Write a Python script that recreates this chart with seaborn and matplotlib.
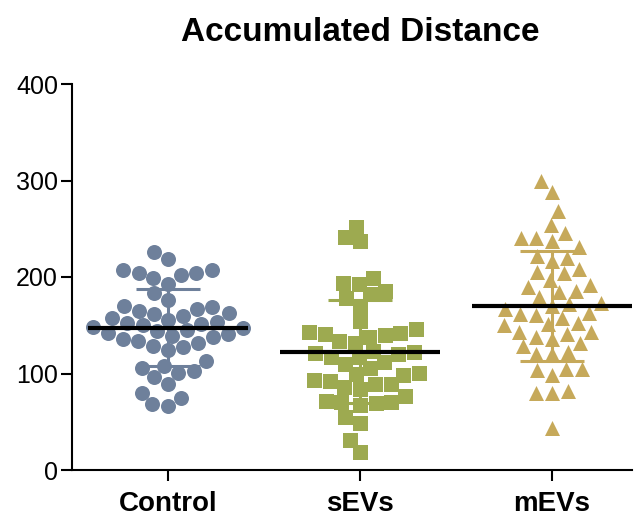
import numpy as np
import pandas as pd
import matplotlib
matplotlib.use("Agg")
import matplotlib.pyplot as plt
import seaborn as sns

groups = ["Control", "sEVs", "mEVs"]
markers = ["o", "s", "^"]
colors = ["#6E809B", "#9DAA50", "#C6A95A"]

control = [226, 219, 207, 207, 204, 204, 202, 199, 193, 183, 176, 170, 169, 167,
           165, 163, 162, 160, 157, 155, 153, 152, 151, 150, 148, 147, 145, 144,
           142, 141, 139, 138, 136, 134, 132, 129, 127, 124, 113, 108, 106, 103,
           101, 96, 89, 80, 75, 68, 66]
sevs = [252, 241, 237, 199, 194, 193, 185, 182, 178, 170, 154, 146, 143, 142,
        141, 140, 138, 134, 132, 123, 122, 121, 120, 117, 117, 112, 110, 106,
        101, 99, 98, 93, 92, 89, 89, 86, 84, 77, 72, 70, 70, 69, 67, 55, 49, 31, 19]
mevs = [299, 288, 268, 254, 246, 240, 237, 240, 231, 222, 217, 220, 208, 204,
        205, 197, 192, 186, 184, 190, 179, 172, 167, 162, 158, 161, 163, 170,
        173, 151, 143, 141, 136, 132, 138, 143, 150, 152, 128, 120, 120, 122,
        105, 104, 105, 98, 80, 80, 82, 44]

df = pd.DataFrame({
    "group": ["Control"] * len(control) + ["sEVs"] * len(sevs) + ["mEVs"] * len(mevs),
    "value": control + sevs + mevs,
})

sns.set_style("ticks", {"axes.edgecolor": "black", "xtick.color": "black",
                        "ytick.color": "black", "text.color": "black"})
plt.rcParams["font.family"] = ["Liberation Sans", "DejaVu Sans"]

fig = plt.figure(figsize=(6.39, 5.22), dpi=100)
ax = fig.add_axes([72 / 639, 1 - 470 / 522, 560 / 639, 386 / 522])

for i, g in enumerate(groups):
    sub = df[df["group"] == g]
    sns.swarmplot(data=sub, x="group", y="value", order=groups, marker=markers[i],
                  color=colors[i], size=10.8, linewidth=0, warn_thresh=1,
                  ax=ax, zorder=3)
    m = sub["value"].mean()
    sd = sub["value"].std()
    ax.errorbar(i, m, yerr=sd, color=colors[i], elinewidth=2.2, capsize=23,
                capthick=2.2, zorder=4)
    ax.hlines(m, i - 0.417, i + 0.417, color="black", lw=3, zorder=5)

ax.set_xlim(-0.5, 2.417)
ax.set_ylim(0, 400)
ax.set_yticks([0, 100, 200, 300, 400])
ax.set_xlabel("")
ax.set_ylabel("")
sns.despine(ax=ax)
for s in ["left", "bottom"]:
    ax.spines[s].set_linewidth(1.5)
    ax.spines[s].set_color("black")
ax.tick_params(axis="y", length=8, width=1.5, labelsize=18, pad=2,
               colors="black")
ax.tick_params(axis="x", length=8, width=1.5, labelsize=20, pad=7,
               colors="black")
for lab in ax.get_xticklabels():
    lab.set_fontweight("bold")

fig.text(360 / 639, 1 - 41 / 522, "Accumulated Distance", ha="center",
         va="baseline", fontsize=24, fontweight="bold", color="black")

fig.savefig("out.png", dpi=100)
